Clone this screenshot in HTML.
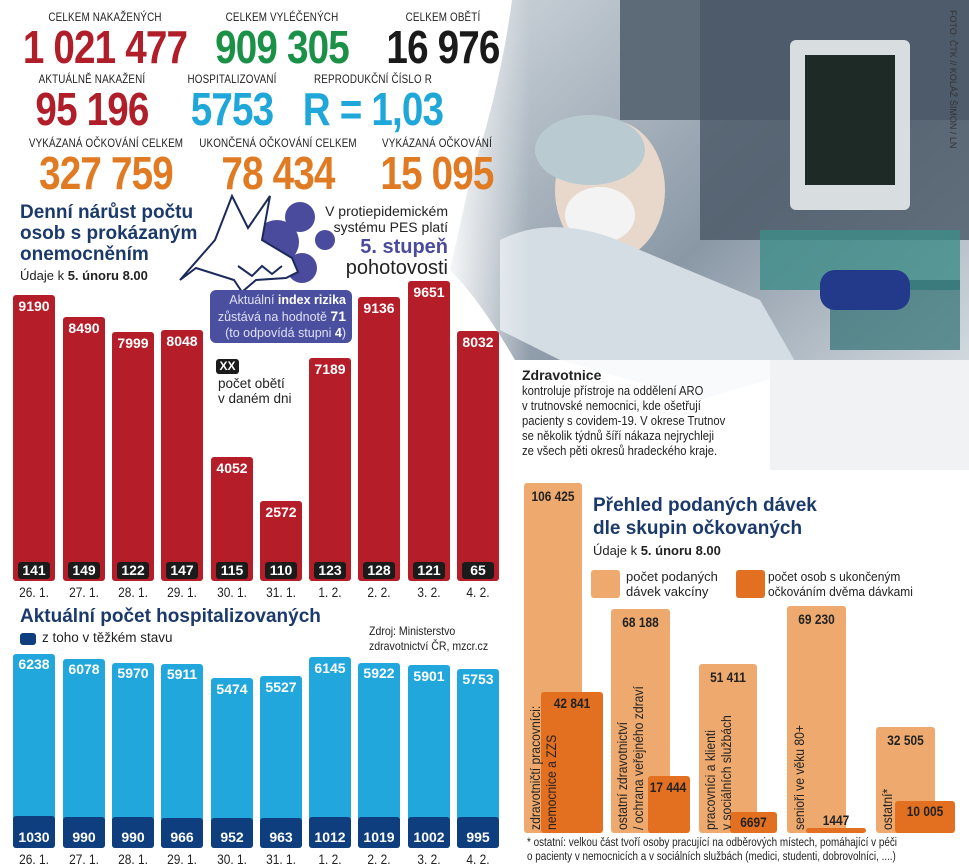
<!DOCTYPE html>
<html><head><meta charset="utf-8">
<style>
body{margin:0;width:969px;height:867px;overflow:hidden;background:#fff;position:relative;font-family:"Liberation Sans",sans-serif}
div{position:absolute}
.lab{width:300px;text-align:center;font-size:12px;color:#222;letter-spacing:0.2px;transform:scaleX(0.82)}
.num{width:300px;text-align:center;font-size:46px;font-weight:bold;line-height:46px;letter-spacing:-1px;transform:scaleX(0.84)}
.t{color:#1b3a6b;font-weight:bold}
.rb{background:#b51d28;border-radius:3px;width:42px}
.rv{color:#fff;font-weight:bold;font-size:14px;width:42px;text-align:center}
.db{background:#1b1b1b;color:#fff;font-weight:bold;font-size:14px;border-radius:3px;text-align:center;width:32px;height:17px;line-height:17px}
.dt{font-size:14px;width:50px;text-align:center;color:#222;transform:scaleX(0.85)}
.bb{background:#22a7dc;border-radius:3px;width:42px}
.bd{background:#0f3e7e;border-radius:3px;width:42px}
.lo{background:#eeaa6e;border-radius:3px}
.dk{background:#e27020;border-radius:3px}
.vn{font-weight:bold;font-size:14px;color:#222;text-align:center;transform:scaleX(0.85)}
.vt{font-size:13.5px;color:#222;transform-origin:0 0;transform:rotate(-90deg) scaleX(0.9);white-space:nowrap;line-height:16px}
</style></head><body>
<svg style="position:absolute;left:0;top:0" width="969" height="867">
<defs>
<linearGradient id="pg" x1="0" y1="0" x2="1" y2="1">
<stop offset="0" stop-color="#cfd6dc"/><stop offset="0.5" stop-color="#8a98a6"/><stop offset="1" stop-color="#e8ecef"/></linearGradient>
<linearGradient id="fade" x1="0" y1="0" x2="1" y2="0">
<stop offset="0" stop-color="#fff" stop-opacity="1"/><stop offset="1" stop-color="#fff" stop-opacity="0"/></linearGradient>
</defs>
<path d="M512 0 H969 V470 H770 V360 H515 Q480 300 450 270 L470 180 Q500 90 512 0Z" fill="url(#pg)"/>
<rect x="620" y="0" width="349" height="120" fill="#5d6b78"/>
<rect x="700" y="0" width="269" height="240" fill="#4a5866" opacity="0.8"/>
<rect x="790" y="40" width="120" height="170" rx="6" fill="#d8dde0"/>
<rect x="805" y="55" width="90" height="130" fill="#1d2a26"/>
<rect x="760" y="230" width="200" height="60" fill="#3d8c88" opacity="0.8"/>
<rect x="830" y="280" width="130" height="70" fill="#2f6f72" opacity="0.7"/>
<ellipse cx="610" cy="190" rx="55" ry="70" fill="#e8d8cc"/>
<ellipse cx="590" cy="150" rx="55" ry="35" fill="#b9cbd1"/>
<ellipse cx="600" cy="215" rx="35" ry="28" fill="#f3f3f3"/>
<path d="M500 240 Q560 210 640 250 L760 300 L800 370 L700 400 L560 360 L500 330Z" fill="#d5dde4"/>
<rect x="820" y="270" width="90" height="40" rx="15" fill="#233a8a"/>
<path d="M770 360 H969 V470 H770Z" fill="#f1f2f4"/>
<rect x="440" y="0" width="90" height="470" fill="url(#fade)"/>
<rect x="515" y="360" width="255" height="110" fill="#fff" opacity="0.85"/>
<circle cx="300" cy="217" r="15" fill="#4b4b9e"/>
<circle cx="277" cy="242" r="22" fill="#4b4b9e"/>
<circle cx="325" cy="240" r="10" fill="#4b4b9e"/>
<circle cx="302" cy="268" r="15" fill="#4b4b9e"/>
<path d="M232 196 L248 228 L270 196 L262 240 L292 258 L298 272 L286 278 L256 280 L242 292 L234 280 L196 268 L180 280 L215 240 Z" fill="#fff" stroke="#1b2a5a" stroke-width="2"/>
<path d="M238 266 L252 276 L262 266 L272 274 L282 266" fill="none" stroke="#1b2a5a" stroke-width="2"/>
</svg>

<div class="lab" style="left:-45px;top:10px">CELKEM NAKAŽENÝCH</div>
<div class="num" style="left:-45px;top:24px;color:#b01e2a">1 021 477</div>
<div class="lab" style="left:132px;top:10px">CELKEM VYLÉČENÝCH</div>
<div class="num" style="left:132px;top:24px;color:#1a9147">909 305</div>
<div class="lab" style="left:293px;top:10px">CELKEM OBĚTÍ</div>
<div class="num" style="left:293px;top:24px;color:#1a1a1a">16 976</div>
<div class="lab" style="left:-58px;top:72px">AKTUÁLNĚ NAKAŽENÍ</div>
<div class="num" style="left:-58px;top:86px;color:#b01e2a">95 196</div>
<div class="lab" style="left:82px;top:72px">HOSPITALIZOVANÍ</div>
<div class="num" style="left:82px;top:86px;color:#1ea7d8">5753</div>
<div class="lab" style="left:223px;top:72px">REPRODUKČNÍ ČÍSLO R</div>
<div class="num" style="left:223px;top:86px;color:#1ea7d8">R = 1,03</div>
<div class="lab" style="left:-44px;top:136px">VYKÁZANÁ OČKOVÁNÍ CELKEM</div>
<div class="num" style="left:-44px;top:150px;color:#e07b23">327 759</div>
<div class="lab" style="left:128px;top:136px">UKONČENÁ OČKOVÁNÍ CELKEM</div>
<div class="num" style="left:128px;top:150px;color:#e07b23">78 434</div>
<div class="lab" style="left:287px;top:136px">VYKÁZANÁ OČKOVÁNÍ</div>
<div class="num" style="left:287px;top:150px;color:#e07b23">15 095</div>

<div style="top:10px;font-size:9px;color:#333;transform:rotate(90deg);transform-origin:0 0;left:958px;white-space:nowrap">FOTO: ČTK // KOLÁŽ ŠIMON / LN</div>

<div class="t" style="left:20px;top:202px;font-size:19px;line-height:21px">Denní nárůst počtu<br>osob s prokázaným<br>onemocněním</div>
<div style="left:20px;top:268px;font-size:13px;color:#222">Údaje k <b>5. únoru 8.00</b></div>

<div style="left:300px;top:203px;width:148px;text-align:right;font-size:14px;line-height:16px;color:#222">V protiepidemickém<br>systému PES platí</div>
<div style="left:300px;top:236px;width:148px;text-align:right;font-size:20px;font-weight:bold;color:#4b4b9e">5. stupeň</div>
<div style="left:300px;top:257px;width:148px;text-align:right;font-size:20px;color:#222">pohotovosti</div>

<div style="left:210px;top:290px;width:142px;height:53px;background:#4b4fa0;border-radius:6px;color:#dfe0f5;font-size:12.5px;line-height:16px;text-align:right;padding:2px 6px 0 0;box-sizing:border-box">Aktuální <b style="color:#fff">index rizika</b><br>zůstává na hodnotě <b style="color:#fff;font-size:14px">71</b><br>(to odpovídá stupni <b style="color:#fff">4</b>)</div>

<div class="db" style="left:216px;top:359px;width:23px;height:15px;line-height:15px;font-size:12px">XX</div>
<div style="left:218px;top:376px;font-size:13.5px;line-height:15px;color:#222">počet obětí<br>v daném dni</div>

<div class="rb" style="left:13px;top:295px;height:286px"></div><div class="rv" style="left:13px;top:298px">9190</div><div class="db" style="left:18px;top:562px">141</div><div class="dt" style="left:9px;top:584px">26. 1.</div>
<div class="rb" style="left:63px;top:317px;height:264px"></div><div class="rv" style="left:63px;top:320px">8490</div><div class="db" style="left:68px;top:562px">149</div><div class="dt" style="left:59px;top:584px">27. 1.</div>
<div class="rb" style="left:112px;top:332px;height:249px"></div><div class="rv" style="left:112px;top:335px">7999</div><div class="db" style="left:117px;top:562px">122</div><div class="dt" style="left:108px;top:584px">28. 1.</div>
<div class="rb" style="left:161px;top:330px;height:251px"></div><div class="rv" style="left:161px;top:333px">8048</div><div class="db" style="left:166px;top:562px">147</div><div class="dt" style="left:157px;top:584px">29. 1.</div>
<div class="rb" style="left:211px;top:457px;height:124px"></div><div class="rv" style="left:211px;top:460px">4052</div><div class="db" style="left:216px;top:562px">115</div><div class="dt" style="left:207px;top:584px">30. 1.</div>
<div class="rb" style="left:260px;top:501px;height:80px"></div><div class="rv" style="left:260px;top:504px">2572</div><div class="db" style="left:265px;top:562px">110</div><div class="dt" style="left:256px;top:584px">31. 1.</div>
<div class="rb" style="left:309px;top:358px;height:223px"></div><div class="rv" style="left:309px;top:361px">7189</div><div class="db" style="left:314px;top:562px">123</div><div class="dt" style="left:305px;top:584px">1. 2.</div>
<div class="rb" style="left:358px;top:297px;height:284px"></div><div class="rv" style="left:358px;top:300px">9136</div><div class="db" style="left:363px;top:562px">128</div><div class="dt" style="left:354px;top:584px">2. 2.</div>
<div class="rb" style="left:408px;top:281px;height:300px"></div><div class="rv" style="left:408px;top:284px">9651</div><div class="db" style="left:413px;top:562px">121</div><div class="dt" style="left:404px;top:584px">3. 2.</div>
<div class="rb" style="left:457px;top:331px;height:250px"></div><div class="rv" style="left:457px;top:334px">8032</div><div class="db" style="left:462px;top:562px">65</div><div class="dt" style="left:453px;top:584px">4. 2.</div>

<div class="t" style="left:20px;top:606px;font-size:19px">Aktuální počet hospitalizovaných</div>
<div style="left:20px;top:633px;width:16px;height:12px;background:#0f3e7e;border-radius:3px"></div>
<div style="left:42px;top:630px;font-size:13.5px;color:#222">z toho v těžkém stavu</div>
<div style="left:369px;top:624px;font-size:12px;line-height:15px;color:#222;transform:scaleX(0.88);transform-origin:0 0">Zdroj: Ministerstvo<br>zdravotnictví ČR, mzcr.cz</div>

<div class="bb" style="left:13px;top:654px;height:194px"></div><div class="bd" style="left:13px;top:816px;height:32px"></div><div class="rv" style="left:13px;top:656px">6238</div><div class="rv" style="left:13px;top:829px">1030</div><div class="dt" style="left:9px;top:851px">26. 1.</div>
<div class="bb" style="left:63px;top:659px;height:189px"></div><div class="bd" style="left:63px;top:817px;height:31px"></div><div class="rv" style="left:63px;top:661px">6078</div><div class="rv" style="left:63px;top:829px">990</div><div class="dt" style="left:59px;top:851px">27. 1.</div>
<div class="bb" style="left:112px;top:663px;height:185px"></div><div class="bd" style="left:112px;top:817px;height:31px"></div><div class="rv" style="left:112px;top:665px">5970</div><div class="rv" style="left:112px;top:829px">990</div><div class="dt" style="left:108px;top:851px">28. 1.</div>
<div class="bb" style="left:161px;top:664px;height:184px"></div><div class="bd" style="left:161px;top:818px;height:30px"></div><div class="rv" style="left:161px;top:666px">5911</div><div class="rv" style="left:161px;top:829px">966</div><div class="dt" style="left:157px;top:851px">29. 1.</div>
<div class="bb" style="left:211px;top:678px;height:170px"></div><div class="bd" style="left:211px;top:818px;height:30px"></div><div class="rv" style="left:211px;top:681px">5474</div><div class="rv" style="left:211px;top:829px">952</div><div class="dt" style="left:207px;top:851px">30. 1.</div>
<div class="bb" style="left:260px;top:676px;height:172px"></div><div class="bd" style="left:260px;top:818px;height:30px"></div><div class="rv" style="left:260px;top:679px">5527</div><div class="rv" style="left:260px;top:829px">963</div><div class="dt" style="left:256px;top:851px">31. 1.</div>
<div class="bb" style="left:309px;top:657px;height:191px"></div><div class="bd" style="left:309px;top:817px;height:31px"></div><div class="rv" style="left:309px;top:660px">6145</div><div class="rv" style="left:309px;top:829px">1012</div><div class="dt" style="left:305px;top:851px">1. 2.</div>
<div class="bb" style="left:358px;top:663px;height:185px"></div><div class="bd" style="left:358px;top:817px;height:31px"></div><div class="rv" style="left:358px;top:665px">5922</div><div class="rv" style="left:358px;top:829px">1019</div><div class="dt" style="left:354px;top:851px">2. 2.</div>
<div class="bb" style="left:408px;top:665px;height:183px"></div><div class="bd" style="left:408px;top:817px;height:31px"></div><div class="rv" style="left:408px;top:668px">5901</div><div class="rv" style="left:408px;top:829px">1002</div><div class="dt" style="left:404px;top:851px">3. 2.</div>
<div class="bb" style="left:457px;top:669px;height:179px"></div><div class="bd" style="left:457px;top:817px;height:31px"></div><div class="rv" style="left:457px;top:671px">5753</div><div class="rv" style="left:457px;top:829px">995</div><div class="dt" style="left:453px;top:851px">4. 2.</div>

<div style="left:522px;top:367px;font-size:14px;font-weight:bold;color:#222">Zdravotnice</div>
<div style="left:522px;top:384px;font-size:12.5px;line-height:15px;color:#222;transform:scaleX(0.9);transform-origin:0 0;white-space:nowrap">kontroluje přístroje na oddělení ARO<br>v trutnovské nemocnici, kde ošetřují<br>pacienty s covidem-19. V okrese Trutnov<br>se několik týdnů šíří nákaza nejrychleji<br>ze všech pěti okresů hradeckého kraje.</div>

<div class="lo" style="left:524px;top:483px;width:58px;height:350px"></div>
<div class="dk" style="left:541px;top:692px;width:62px;height:141px"></div>
<div class="lo" style="left:611px;top:609px;width:59px;height:224px"></div>
<div class="dk" style="left:648px;top:776px;width:42px;height:57px"></div>
<div class="lo" style="left:699px;top:664px;width:58px;height:169px"></div>
<div class="dk" style="left:730px;top:812px;width:47px;height:21px"></div>
<div class="lo" style="left:787px;top:606px;width:59px;height:227px"></div>
<div class="dk" style="left:806px;top:828px;width:60px;height:5px"></div>
<div class="lo" style="left:876px;top:727px;width:59px;height:106px"></div>
<div class="dk" style="left:895px;top:801px;width:60px;height:32px"></div>

<div class="vn" style="left:524px;top:488px;width:58px">106 425</div>
<div class="vn" style="left:541px;top:695px;width:62px">42 841</div>
<div class="vn" style="left:611px;top:614px;width:59px">68 188</div>
<div class="vn" style="left:640px;top:779px;width:56px">17 444</div>
<div class="vn" style="left:699px;top:669px;width:58px">51 411</div>
<div class="vn" style="left:730px;top:814px;width:47px">6697</div>
<div class="vn" style="left:787px;top:611px;width:59px">69 230</div>
<div class="vn" style="left:810px;top:812px;width:52px">1447</div>
<div class="vn" style="left:876px;top:732px;width:59px">32 505</div>
<div class="vn" style="left:895px;top:803px;width:60px">10 005</div>

<div class="vt" style="left:528px;top:830px">zdravotničtí pracovníci:<br>nemocnice a ZZS</div>
<div class="vt" style="left:615px;top:830px">ostatní zdravotnictví<br>/ ochrana veřejného zdraví</div>
<div class="vt" style="left:703px;top:830px">pracovníci a klienti<br>v sociálních službách</div>
<div class="vt" style="left:792px;top:830px">senioři ve věku 80+</div>
<div class="vt" style="left:880px;top:830px">ostatní*</div>

<div class="t" style="left:593px;top:494px;font-size:19px;line-height:23px">Přehled podaných dávek<br>dle skupin očkovaných</div>
<div style="left:593px;top:543px;font-size:13px;color:#222">Údaje k <b>5. únoru 8.00</b></div>
<div class="lo" style="left:591px;top:570px;width:29px;height:28px"></div>
<div style="left:626px;top:569px;font-size:13px;line-height:15px;color:#222">počet podaných<br>dávek vakcíny</div>
<div class="dk" style="left:736px;top:570px;width:29px;height:28px"></div>
<div style="left:768px;top:569px;font-size:13px;line-height:15px;color:#222;white-space:nowrap;transform:scaleX(0.92);transform-origin:0 0">počet osob s ukončeným<br>očkováním dvěma dávkami</div>

<div style="left:527px;top:836px;font-size:11.5px;line-height:14px;color:#222;white-space:nowrap;transform:scaleX(0.86);transform-origin:0 0">* ostatní: velkou část tvoří osoby pracující na odběrových místech, pomáhající v péči<br>o pacienty v nemocnicích a v sociálních službách (medici, studenti, dobrovolníci, ....)</div>
</body></html>
